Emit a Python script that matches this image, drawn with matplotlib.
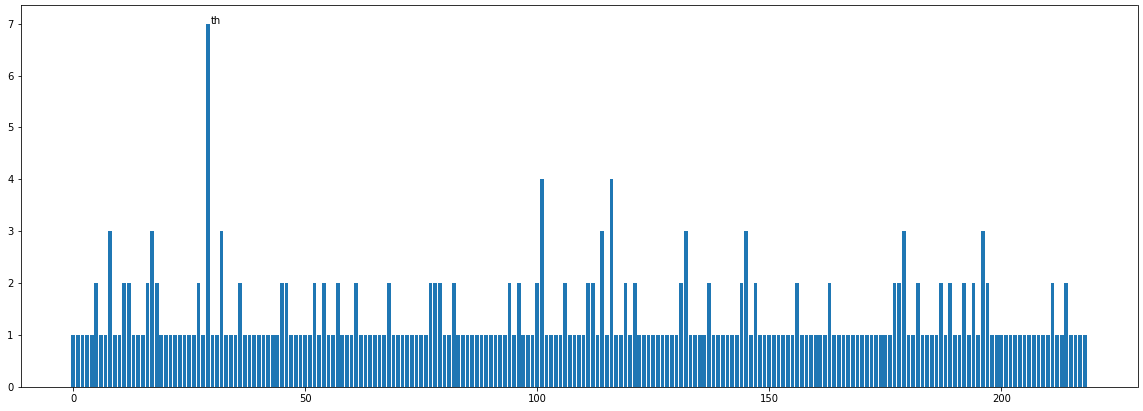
import numpy as np
import matplotlib
matplotlib.use("Agg")
import matplotlib.pyplot as plt

# counts per index (0..218)
counts = [
    1, 1, 1, 1, 1, 2, 1, 1, 3, 1, 1, 2, 2, 1, 1, 1, 2, 3, 2, 1,   # 0-19
    1, 1, 1, 1, 1, 1, 1, 2, 1, 7, 1, 1, 3, 1, 1, 1, 2, 1, 1, 1,   # 20-39
    1, 1, 1, 1, 1, 2, 2, 1, 1, 1, 1, 1, 2, 1, 2, 1, 1, 2, 1, 1,   # 40-59
    1, 2, 1, 1, 1, 1, 1, 1, 2, 1, 1, 1, 1, 1, 1, 1, 1, 2, 2, 2,   # 60-79
    1, 1, 2, 1, 1, 1, 1, 1, 1, 1, 1, 1, 1, 1, 2, 1, 2, 1, 1, 1,   # 80-99
    2, 4, 1, 1, 1, 1, 2, 1, 1, 1, 1, 2, 2, 1, 3, 1, 4, 1, 1, 2,   # 100-119
    1, 2, 1, 1, 1, 1, 1, 1, 1, 1, 1, 2, 3, 1, 1, 1, 1, 2, 1, 1,   # 120-139
    1, 1, 1, 1, 2, 3, 1, 2, 1, 1, 1, 1, 1, 1, 1, 1, 2, 1, 1, 1,   # 140-159
    1, 1, 1, 2, 1, 1, 1, 1, 1, 1, 1, 1, 1, 1, 1, 1, 1, 2, 2, 3,   # 160-179
    1, 1, 2, 1, 1, 1, 1, 2, 1, 2, 1, 1, 2, 1, 2, 1, 3, 2, 1, 1,   # 180-199
    1, 1, 1, 1, 1, 1, 1, 1, 1, 1, 1, 2, 1, 1, 2, 1, 1, 1, 1,      # 200-218
]
idx = np.arange(len(counts))

label_text = "th"
label_x = 29.65
label_y = 7

fig = plt.figure(figsize=(1143 / 72, 411 / 72), dpi=72)
ax = fig.add_axes([20.5 / 1143, 24 / 411, 1117 / 1143, 381.5 / 411])
ax.bar(idx, counts, color="#1f77b4")
ax.text(label_x, label_y, label_text, fontsize=10)

fig.savefig("out.png", dpi=72)
